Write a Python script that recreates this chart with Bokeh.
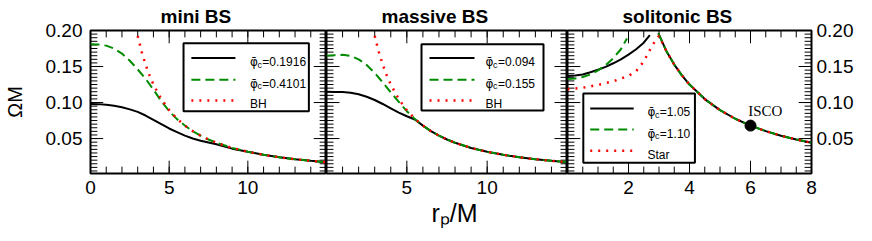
from bokeh.plotting import figure
from bokeh.layouts import row
from bokeh.models import (LinearAxis, FixedTicker, Range1d, Label, BoxAnnotation,
                          Arrow, NumeralTickFormatter, Title)
from bokeh.embed import file_html
from bokeh.resources import INLINE

# ---------------- data ----------------
# mini BS
mini_r = [0, 0.5, 1, 1.5, 2, 2.5, 3, 3.5, 4, 4.5, 5, 5.5, 6, 6.5, 7, 7.5, 8, 9, 10, 11, 12, 13, 14, 15]
mini_phi01916 = [0.098, 0.0978, 0.097, 0.0955, 0.0935, 0.0905, 0.087, 0.082, 0.076, 0.070, 0.064,
                 0.059, 0.054, 0.050, 0.047, 0.0445, 0.042, 0.036, 0.0316, 0.0274, 0.0241, 0.0213,
                 0.0191, 0.0172]
mini_phi04101 = [0.181, 0.1805, 0.179, 0.175, 0.168, 0.158, 0.146, 0.133, 0.118, 0.102, 0.088,
                 0.077, 0.068, 0.0603, 0.054, 0.0487, 0.0442, 0.037, 0.0316, 0.0274, 0.0241, 0.0213,
                 0.0191, 0.0172]
# massive BS
mass_r = [0, 0.5, 1, 1.5, 2, 2.5, 3, 3.5, 4, 4.5, 5, 5.5, 6, 6.5, 7, 7.5, 8, 9, 10, 11, 12, 13, 14, 15]
mass_phi0094 = [0.115, 0.1148, 0.1145, 0.1135, 0.1115, 0.108, 0.1035, 0.098, 0.092, 0.086, 0.081,
                0.0765, 0.068, 0.0603, 0.054, 0.0487, 0.0442, 0.037, 0.0316, 0.0274, 0.0241, 0.0213,
                0.0191, 0.0172]
mass_phi0155 = [0.165, 0.1658, 0.1662, 0.1648, 0.160, 0.152, 0.141, 0.128, 0.114, 0.101, 0.088,
                0.077, 0.068, 0.0603, 0.054, 0.0487, 0.0442, 0.037, 0.0316, 0.0274, 0.0241, 0.0213,
                0.0191, 0.0172]
# black hole (panels 1 and 2)
bh_r = [3, 3.25, 3.5, 3.75, 4, 4.5, 5, 5.5, 6, 6.5, 7, 7.5, 8, 9, 10, 11, 12, 13, 14, 15]
bh_omega = [0.1925, 0.1707, 0.1527, 0.1377, 0.125, 0.1048, 0.0894, 0.0775, 0.068, 0.0603, 0.054,
            0.0487, 0.0442, 0.037, 0.0316, 0.0274, 0.0241, 0.0213, 0.0191, 0.0172]
# solitonic BS (nan separates inner and outer branches)
nan = float("nan")
sol_r_105 = [0, 0.25, 0.5, 0.75, 1, 1.25, 1.5, 1.75, 2, 2.25, 2.5, 2.7, nan,
             2.98, 3.25, 3.5, 3.75, 4, 4.5, 5, 5.5, 6, 6.5, 7, 7.5, 8]
sol_phi105 = [0.137, 0.1375, 0.139, 0.142, 0.1455, 0.1495, 0.1545, 0.160, 0.1665, 0.174, 0.183,
              0.1935, nan, 0.196, 0.1707, 0.1527, 0.1377, 0.125, 0.1048, 0.0894, 0.0775, 0.068,
              0.0603, 0.054, 0.0487, 0.0442]
sol_r_110 = [0, 0.25, 0.5, 0.75, 1, 1.25, 1.5, 1.75, 1.95, nan,
             2.98, 3.25, 3.5, 3.75, 4, 4.5, 5, 5.5, 6, 6.5, 7, 7.5, 8]
sol_phi110 = [0.1325, 0.1335, 0.1355, 0.139, 0.1445, 0.152, 0.1615, 0.174, 0.189, nan,
              0.196, 0.1707, 0.1527, 0.1377, 0.125, 0.1048, 0.0894, 0.0775, 0.068, 0.0603,
              0.054, 0.0487, 0.0442]
star_r = [0, 0.5, 1, 1.5, 2, 2.25, 2.5, 2.75, 2.9, 3, 3.25, 3.5, 3.75, 4, 4.5, 5, 5.5, 6, 6.5,
          7, 7.5, 8]
star_omega = [0.1185, 0.1205, 0.1245, 0.1295, 0.137, 0.1435, 0.157, 0.177, 0.187, 0.1925, 0.1707,
              0.1527, 0.1377, 0.125, 0.1048, 0.0894, 0.0775, 0.068, 0.0603, 0.054, 0.0487, 0.0442]
isco_r = [6.0]
isco_omega = [0.068]

titles = ["mini BS", "massive BS", "solitonic BS"]
legend_values = [["=0.1916", "=0.4101", "BH"], ["=0.094", "=0.155", "BH"], ["=1.05", "=1.10", "Star"]]
x_max = [15, 15, 8]
x_major_labels = [[0, 5, 10], [5, 10], [2, 4, 6, 8]]
x_major = [[0, 5, 10, 15], [0, 5, 10, 15], [0, 2, 4, 6, 8]]
x_minor = [list(range(0, 16)), list(range(0, 16)), [0.5 * k for k in range(0, 17)]]
y_major = [0.05, 0.10, 0.15, 0.20]
y_minor = [round(0.005 * k, 3) for k in range(1, 40)]

# ---------------- layout constants (page pixels) ----------------
Y0, Y1 = 0.0015, 0.2
FT, FB = 28, 173
GEO = [(93, 334), (334, 575), (575, 822)]
FONT = "Liberation Sans"
BLACK = dict(line_color="black", line_width=2)
GREEN = dict(line_color="#008b00", line_width=2, line_dash="9 5")
RED = dict(line_color="#ff0000", line_width=2.5, line_dash="2 6")
MAJ, MIN = 13, 7  # tick lengths px


def dx(i, px):
    l, r = GEO[i]
    return (px - l) / (r - l) * x_max[i]


def dlen_x(i, n):
    l, r = GEO[i]
    return n / (r - l) * x_max[i]


def dy(py):
    return Y1 - (py - FT) / (FB - FT) * (Y1 - Y0)


def dlen_y(n):
    return n / (FB - FT) * (Y1 - Y0)


widths = [326, 241, 289]
borders = [(85, 0), (0, 0), (0, 42)]
title_offsets = [70, 55, 55]
figs = []
for i in range(3):
    p = figure(width=widths[i], height=233, x_range=Range1d(0, x_max[i]),
               y_range=Range1d(Y0, Y1), output_backend="svg", toolbar_location=None,
               x_axis_location=None, y_axis_location=None,
               min_border_left=borders[i][0], min_border_right=borders[i][1],
               min_border_top=28, min_border_bottom=60)
    p.outline_line_color = "black"
    p.outline_line_width = 2
    p.outline_line_alpha = 1
    p.background_fill_color = "white"
    p.border_fill_color = "white"
    for g in p.grid:
        g.visible = False
    t = Title(text=titles[i], align="left", offset=title_offsets[i], text_font=FONT,
              text_font_size="19px", text_font_style="bold", text_color="black", standoff=7)
    p.add_layout(t, "above")
    figs.append(p)

p1, p2, p3 = figs


def label_axis(p, side, ticks, fmt=None):
    ax = LinearAxis(ticker=FixedTicker(ticks=ticks, minor_ticks=[]), axis_line_color=None,
                    major_tick_in=0, major_tick_out=0, minor_tick_in=0, minor_tick_out=0,
                    major_label_text_font=FONT, major_label_text_font_size="19px",
                    major_label_text_color="black", major_label_standoff=7)
    if fmt is not None:
        ax.formatter = fmt
    p.add_layout(ax, side)
    return ax


yfmt = NumeralTickFormatter(format="0.00")
for i, p in enumerate(figs):
    label_axis(p, "below", x_major_labels[i])
la = label_axis(p1, "left", y_major, yfmt)
la.major_label_standoff = 8
la.axis_label = "ΩM"
la.axis_label_text_font = FONT
la.axis_label_text_font_size = "20px"
la.axis_label_text_font_style = "normal"
la.axis_label_text_color = "black"
la.axis_label_standoff = 17
ra = label_axis(p3, "right", y_major, yfmt)
ra.major_label_standoff = 5

# x axis title r_p/M under the middle panel
xt = Title(text="rₚ/M", align="left", offset=105, text_font=FONT, text_font_size="25px",
           text_font_style="normal", text_color="black", standoff=0)
p2.add_layout(xt, "below")

# ---------------- inward ticks on all four sides ----------------
for i, p in enumerate(figs):
    xm = x_max[i]
    for ticks, n in ((x_major[i], MAJ), (x_minor[i], MIN)):
        L = dlen_y(n)
        p.segment(x0=ticks, x1=ticks, y0=[Y0] * len(ticks), y1=[Y0 + L] * len(ticks),
                  line_color="black", line_width=1)
        p.segment(x0=ticks, x1=ticks, y0=[Y1] * len(ticks), y1=[Y1 - L] * len(ticks),
                  line_color="black", line_width=1)
    for ticks, n in ((y_major, MAJ), (y_minor, MIN)):
        L = dlen_x(i, n)
        p.segment(x0=[0] * len(ticks), x1=[L] * len(ticks), y0=ticks, y1=ticks,
                  line_color="black", line_width=1)
        p.segment(x0=[xm] * len(ticks), x1=[xm - L] * len(ticks), y0=ticks, y1=ticks,
                  line_color="black", line_width=1)

# ---------------- curves ----------------
p1.line(mini_r, mini_phi01916, **BLACK)
p1.line(mini_r, mini_phi04101, **GREEN)
p1.line(bh_r, bh_omega, **RED)
p2.line(mass_r, mass_phi0094, **BLACK)
p2.line(mass_r, mass_phi0155, **GREEN)
p2.line(bh_r, bh_omega, **RED)
p3.line(sol_r_105, sol_phi105, **BLACK)
p3.line(sol_r_110, sol_phi110, **GREEN)
p3.line(star_r, star_omega, **RED)
p3.scatter(isco_r, isco_omega, size=11, color="black")
p3.add_layout(Label(x=dx(2, 758), y=dy(110), text="ISCO", text_font="Liberation Serif",
                    text_font_size="15px", text_baseline="alphabetic", text_align="left",
                    text_color="black"))

# ---------------- legends ----------------
LEG = [
    dict(box=(188, 316, 41, 110), s=(196, 241), tx=256, rows=(56, 78, 99)),
    dict(box=(429, 551, 42, 109), s=(437, 482), tx=493, rows=(56, 78, 99)),
    dict(box=(591, 704, 92, 162), s=(598, 642), tx=656, rows=(107, 128.5, 150)),
]
styles = [BLACK, GREEN, RED]
for i, p in enumerate(figs):
    g = LEG[i]
    l, r, t, b = g["box"]
    p.add_layout(BoxAnnotation(left=dx(i, l), right=dx(i, r), top=dy(t), bottom=dy(b),
                               fill_color="white", fill_alpha=1, line_color="black",
                               line_width=2, line_alpha=1))
    for k in range(3):
        yc = g["rows"][k]
        p.add_layout(Arrow(end=None, x_start=dx(i, g["s"][0]), x_end=dx(i, g["s"][1]),
                           y_start=dy(yc), y_end=dy(yc), **styles[k]))
        base = yc + 4
        if k < 2:
            p.add_layout(Label(x=dx(i, g["tx"]), y=dy(base), text="φ̄", text_font="DejaVu Sans",
                               text_font_size="12px", text_baseline="alphabetic", text_color="black"))
            p.add_layout(Label(x=dx(i, g["tx"] + 7.5), y=dy(base + 2.5), text="c", text_font=FONT,
                               text_font_size="9px", text_baseline="alphabetic", text_color="black"))
            p.add_layout(Label(x=dx(i, g["tx"] + 12.5), y=dy(base), text=legend_values[i][k],
                               text_font=FONT, text_font_size="12px", text_baseline="alphabetic",
                               text_color="black"))
        else:
            p.add_layout(Label(x=dx(i, g["tx"]), y=dy(base), text=legend_values[i][k],
                               text_font=FONT, text_font_size="12px", text_baseline="alphabetic",
                               text_color="black"))

layout = row(p1, p2, p3)
open("out.html", "w").write(file_html(layout, INLINE))
